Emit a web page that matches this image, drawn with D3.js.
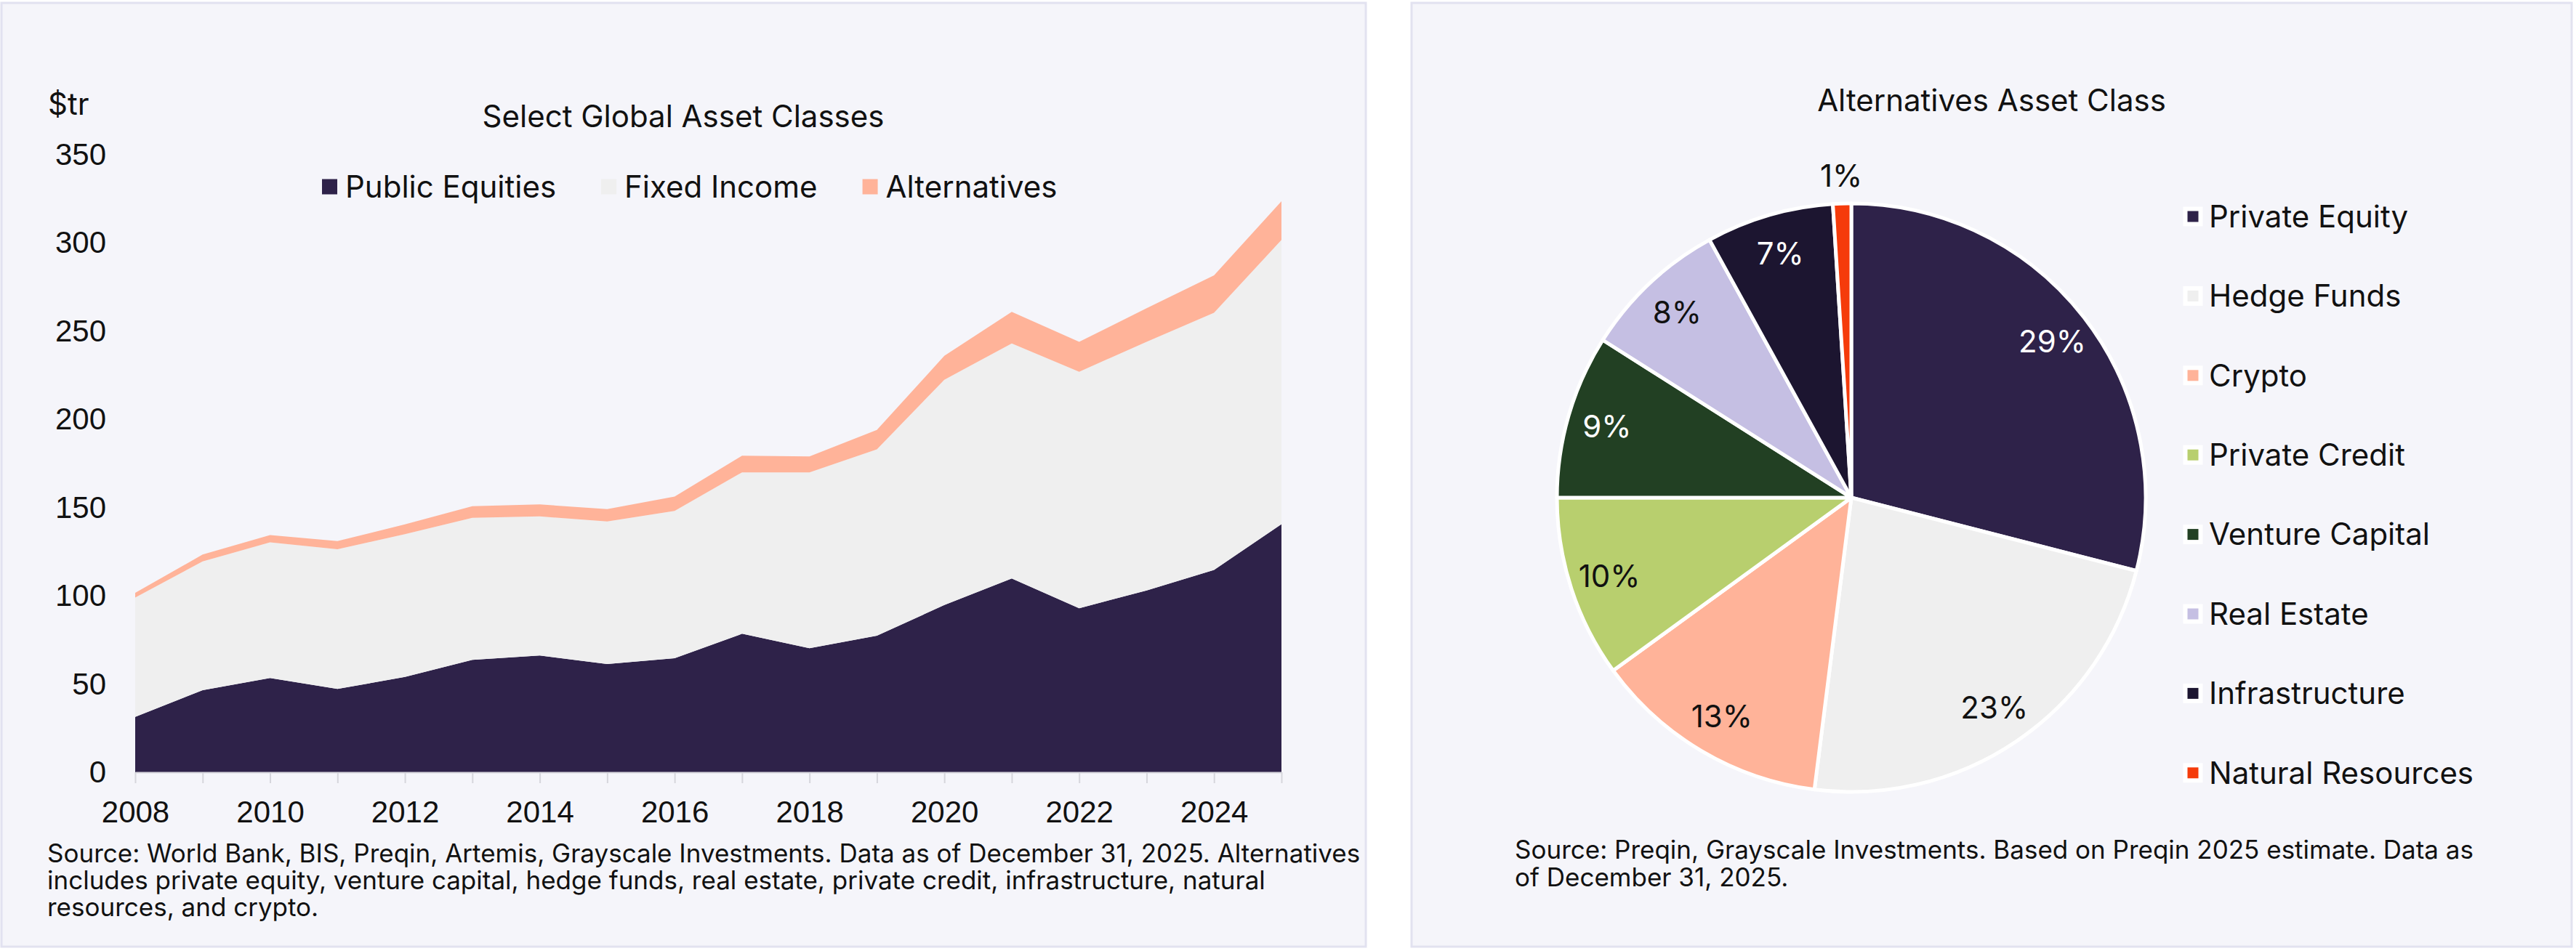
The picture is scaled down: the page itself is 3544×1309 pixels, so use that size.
<!DOCTYPE html>
<html>
<head>
<meta charset="utf-8">
<script src="https://cdn.jsdelivr.net/npm/d3@7"></script>
<style>
  body { margin: 0; background: #fff; }
  svg { display: block; font-family: Inter, 'Noto Sans', sans-serif; }
</style>
</head>
<body>
<svg width="3544" height="1309"></svg>
<script>
// left chart: $tr by year, stacked
const years = [2008, 2009, 2010, 2011, 2012, 2013, 2014, 2015, 2016, 2017, 2018, 2019, 2020, 2021, 2022, 2023, 2024, 2025]
const publicEquities = [31.4, 46.5, 53.4, 47.2, 54, 63.7, 66.2, 61.4, 64.6, 78.5, 70.3, 77.4, 94.8, 109.8, 93, 103, 114.7, 140.6]
const fixedIncome = [67.6, 73, 76.9, 79.2, 81, 80.5, 78.8, 80.8, 83.5, 91.5, 99.7, 105.6, 127.7, 133.2, 134, 141, 145.7, 161.1]
const alternatives = [2.7, 3.9, 4.1, 4.6, 5.5, 6.6, 6.8, 7, 8.2, 9.4, 9, 11, 13.5, 18, 17, 19, 21.2, 21.9]
const assetNames = ['Public Equities', 'Fixed Income', 'Alternatives']
const yTicks = [0, 50, 100, 150, 200, 250, 300, 350]
const xTickLabels = [2008, 2010, 2012, 2014, 2016, 2018, 2020, 2022, 2024]

// right chart: share of alternatives, %
const altClasses = ['Private Equity', 'Hedge Funds', 'Crypto', 'Private Credit', 'Venture Capital', 'Real Estate', 'Infrastructure', 'Natural Resources']
const altShares = [29, 23, 13, 10, 9, 8, 7, 1]

const assetColors = ['#2e2249', '#efefef', '#ffb399']
const altColors = ['#2e2249', '#efefef', '#ffb399', '#b8cf6e', '#224023', '#c5bfe3', '#1c1530', '#f53b0b']
const altLabelColors = ['#fff', '#111', '#111', '#111', '#fff', '#111', '#fff', '#111']

const ink = '#111'
const fontBig = 42
const fontSmall = 35

const svg = d3.select('svg')

// panels
const panels = [
  { x: 2, y: 4, w: 1877, h: 1299 },
  { x: 1942, y: 4, w: 1596, h: 1299 },
]
svg.selectAll('rect.panel').data(panels).join('rect')
  .classed('panel', true)
  .attr('x', d => d.x).attr('y', d => d.y)
  .attr('width', d => d.w).attr('height', d => d.h)
  .attr('fill', '#f5f5fa')
  .attr('stroke', '#e2e2f0')
  .attr('stroke-width', 3)

// ---------- stacked area ----------
const rows = years.map((year, i) => ({
  year,
  'Public Equities': publicEquities[i],
  'Fixed Income': fixedIncome[i],
  'Alternatives': alternatives[i],
}))

const x = d3.scaleLinear().domain([years[0], years[years.length - 1]]).range([186, 1763])
const y = d3.scaleLinear().domain([0, 350]).range([1063, 213])

const stacked = d3.stack().keys(assetNames)(rows)
const area = d3.area()
  .x(d => x(d.data.year))
  .y0(d => y(d[0]))
  .y1(d => y(d[1]))

const left = svg.append('g').classed('left', true)

left.selectAll('path.layer')
  .data(stacked)
  .join('path')
  .classed('layer', true)
  .attr('d', area)
  .attr('fill', (d, i) => assetColors[i])

const xAxis = left.append('g')
  .attr('transform', `translate(0, ${ y(0) })`)
  .call(d3.axisBottom(x)
    .tickValues(years)
    .tickSize(15)
    .tickSizeOuter(0)
    .tickPadding(24)
    .tickFormat(d => xTickLabels.includes(d) ? d : ''))
xAxis.select('.domain').attr('stroke', '#d6d6dc').attr('stroke-width', 2)
xAxis.selectAll('.tick line').attr('stroke', '#d6d6dc').attr('stroke-width', 2)
xAxis.selectAll('text')
  .attr('font-size', fontBig)
  .attr('font-family', null)
  .attr('fill', ink)

const yAxis = left.append('g')
  .attr('transform', 'translate(146, 0)')
  .call(d3.axisLeft(y).tickValues(yTicks).tickSize(0).tickPadding(0))
yAxis.select('.domain').remove()
yAxis.selectAll('text')
  .attr('font-size', fontBig)
  .attr('font-family', null)
  .attr('fill', ink)

left.append('text')
  .attr('x', 66).attr('y', 158)
  .attr('font-size', fontBig)
  .attr('fill', ink)
  .text('$tr')

left.append('text')
  .attr('x', 940).attr('y', 175)
  .attr('text-anchor', 'middle')
  .attr('font-size', fontBig)
  .attr('fill', ink)
  .text('Select Global Asset Classes')

// legend row, laid out from text widths
const legend = left.append('g').attr('transform', 'translate(0, 257)')
const items = legend.selectAll('g.item')
  .data(assetNames)
  .join('g')
  .classed('item', true)
items.append('rect')
  .attr('width', 21).attr('height', 21)
  .attr('y', -10.5)
  .attr('fill', (d, i) => assetColors[i])
items.append('text')
  .attr('x', 32)
  .attr('dy', '0.35em')
  .attr('font-size', fontBig)
  .attr('fill', ink)
  .text(d => d)
let cursor = 443
items.each(function () {
  const g = d3.select(this)
  g.attr('transform', `translate(${ cursor }, 0)`)
  cursor += 32 + g.select('text').node().getComputedTextLength() + 62
})

left.append('text')
  .attr('font-size', fontSmall)
  .attr('fill', ink)
  .selectAll('tspan')
  .data([
    'Source: World Bank, BIS, Preqin, Artemis, Grayscale Investments. Data as of December 31, 2025. Alternatives',
    'includes private equity, venture capital, hedge funds, real estate, private credit, infrastructure, natural',
    'resources, and crypto.',
  ])
  .join('tspan')
  .attr('x', 65)
  .attr('y', (d, i) => 1187 + i * 37)
  .text(d => d)

// ---------- pie ----------
const right = svg.append('g').classed('right', true)
const cx = 2547, cy = 685, radius = 405

right.append('text')
  .attr('x', 2740).attr('y', 153)
  .attr('text-anchor', 'middle')
  .attr('font-size', fontBig)
  .attr('fill', ink)
  .text('Alternatives Asset Class')

const slices = d3.pie().sort(null).value(d => d.share)(
  altClasses.map((name, i) => ({ name, share: altShares[i], i }))
)
const arc = d3.arc().innerRadius(0).outerRadius(radius)
const innerLabel = d3.arc().innerRadius(350).outerRadius(350)
const outerLabel = d3.arc().innerRadius(443).outerRadius(443)

const pie = right.append('g').attr('transform', `translate(${ cx }, ${ cy })`)
pie.selectAll('path')
  .data(slices)
  .join('path')
  .attr('d', arc)
  .attr('fill', d => altColors[d.data.i])
  .attr('stroke', '#fff')
  .attr('stroke-width', 5)
  .attr('stroke-linejoin', 'round')

pie.selectAll('text')
  .data(slices)
  .join('text')
  .attr('transform', d => `translate(${ (d.data.share < 3 ? outerLabel : innerLabel).centroid(d) })`)
  .attr('text-anchor', 'middle')
  .attr('dy', '0.35em')
  .attr('font-size', fontBig)
  .attr('fill', d => altLabelColors[d.data.i])
  .text(d => `${ d.data.share }%`)

const altLegend = right.selectAll('g.alt-item')
  .data(altClasses)
  .join('g')
  .classed('alt-item', true)
  .attr('transform', (d, i) => `translate(3017, ${ 298 + i * 109.4 })`)
altLegend.append('rect')
  .attr('x', -13.5).attr('y', -13.5)
  .attr('width', 27).attr('height', 27)
  .attr('fill', '#fff')
altLegend.append('rect')
  .attr('x', -7.5).attr('y', -7.5)
  .attr('width', 15).attr('height', 15)
  .attr('fill', (d, i) => altColors[i])
altLegend.append('text')
  .attr('x', 22)
  .attr('dy', '0.35em')
  .attr('font-size', fontBig)
  .attr('fill', ink)
  .text(d => d)

right.append('text')
  .attr('font-size', fontSmall)
  .attr('fill', ink)
  .selectAll('tspan')
  .data([
    'Source: Preqin, Grayscale Investments. Based on Preqin 2025 estimate. Data as',
    'of December 31, 2025.',
  ])
  .join('tspan')
  .attr('x', 2084)
  .attr('y', (d, i) => 1182 + i * 38)
  .text(d => d)
</script>
</body>
</html>
